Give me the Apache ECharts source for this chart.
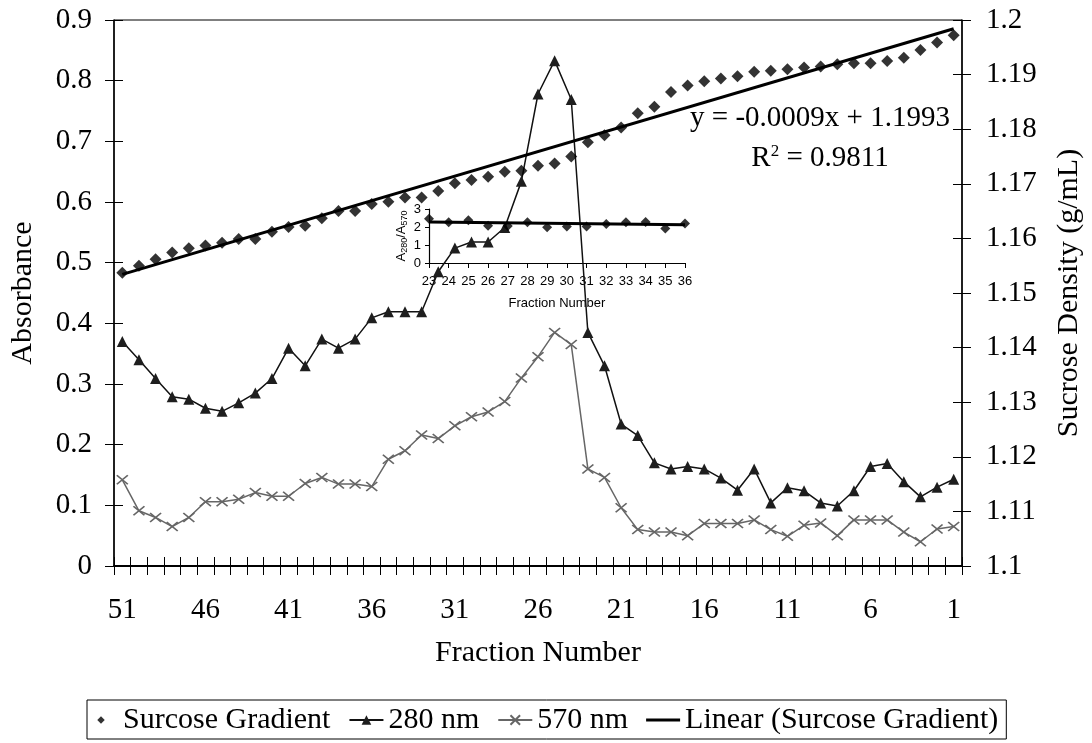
<!DOCTYPE html>
<html>
<head>
<meta charset="utf-8">
<script src="https://cdn.jsdelivr.net/npm/echarts@6/dist/echarts.min.js"></script>
<style>
  html, body { margin: 0; padding: 0; background: #fff; }
  #chart { width: 1092px; height: 743px; }
</style>
</head>
<body>
<div id="chart"></div>
<script>
// Fraction numbers, collected from the bottom of the tube (51) to the top (1)
const fractions = ['51','50','49','48','47','46','45','44','43','42',
                   '41','40','39','38','37','36','35','34','33','32',
                   '31','30','29','28','27','26','25','24','23','22',
                   '21','20','19','18','17','16','15','14','13','12',
                   '11','10','9','8','7','6','5','4','3','2','1'];

// Sucrose density of each fraction (g/mL)
const sucroseDensity = [1.1537,1.1550,1.1562,1.1574,1.1582,1.1587,1.1592,1.1599,1.1599,1.1612,
                        1.1621,1.1623,1.1637,1.1650,1.1650,1.1663,1.1667,1.1675,1.1675,1.1687,
                        1.1701,1.1707,1.1713,1.1722,1.1724,1.1733,1.1737,1.1750,1.1776,1.1789,
                        1.1803,1.1829,1.1841,1.1868,1.1880,1.1888,1.1893,1.1897,1.1905,1.1907,
                        1.1910,1.1913,1.1915,1.1919,1.1921,1.1921,1.1925,1.1931,1.1945,1.1959,
                        1.1972];

// Absorbance at 280 nm
const abs280 = [0.370,0.340,0.309,0.279,0.275,0.260,0.255,0.269,0.285,0.309,
                0.359,0.330,0.374,0.359,0.374,0.409,0.419,0.419,0.419,0.485,
                0.524,0.534,0.534,0.558,0.634,0.778,0.833,0.769,0.385,0.330,
                0.234,0.215,0.170,0.160,0.164,0.160,0.145,0.125,0.160,0.104,
                0.129,0.124,0.104,0.099,0.124,0.164,0.169,0.139,0.114,0.130,
                0.143];

// Absorbance at 570 nm
const abs570 = [0.142,0.091,0.080,0.065,0.080,0.106,0.106,0.110,0.121,0.115,
                0.115,0.136,0.146,0.135,0.135,0.131,0.176,0.190,0.216,0.210,
                0.231,0.246,0.254,0.271,0.310,0.345,0.385,0.365,0.160,0.146,
                0.096,0.060,0.056,0.056,0.050,0.070,0.070,0.070,0.076,0.060,
                0.049,0.067,0.071,0.050,0.076,0.076,0.076,0.056,0.040,0.061,
                0.065];

// Linear fit of the sucrose gradient: density = slope * fraction + intercept
const fitSlope = -0.0009;
const fitIntercept = 1.1993;
const fitRSquared = 0.9811;
const fitEnds = ['51', '1'];

// Inset: A280/A570 ratio for fractions 23-36
const insetFractions = ['23','24','25','26','27','28','29','30','31','32','33','34','35','36'];
const ratio280to570 = [2.46,2.26,2.37,2.07,2.05,2.26,1.98,2.03,2.03,2.17,2.26,2.28,1.91,2.19];
const ratioTrendEnds = [['23', 2.28], ['36', 2.12]];

const serif = '"Liberation Serif", "Times New Roman", serif';
const sans = '"Liberation Sans", Arial, sans-serif';
const black = '#000';

const chart = echarts.init(document.getElementById('chart'), null, { renderer: 'canvas' });

const fitLine = fitEnds.map(f => [f, +(fitSlope * Number(f) + fitIntercept).toFixed(4)]);

const tickStyle = { color: black, width: 1 };
const mainLabel = { color: black, fontFamily: serif, fontSize: 29 };

// Legend icons: a small diamond inside a padded box, and a thick bar for the fit line
const smallDiamond = 'path://M0,0M16,16M8,3L13,8L8,13L3,8Z';
const thickBar = 'path://M0,0H36V3H0Z';

const option = {
  animation: false,
  backgroundColor: '#fff',
  grid: [
    { left: 112, right: 124, top: 20, bottom: 177, show: true, borderColor: black, borderWidth: 1, containLabel: false },
    { left: 429, top: 209, width: 256, height: 54, containLabel: false }
  ],
  legend: {
    left: 87, top: 700,
    borderColor: black, borderWidth: 1, borderRadius: 0,
    padding: [5, 8, 4, 8],
    itemGap: 18, itemWidth: 34, itemHeight: 12,
    symbolKeepAspect: true,
    textStyle: { color: black, fontFamily: serif, fontSize: 30 },
    data: [
      { name: 'Surcose Gradient', icon: smallDiamond, itemStyle: { color: black } },
      { name: '280 nm' },
      { name: '570 nm' },
      { name: 'Linear (Surcose Gradient)', icon: thickBar, itemStyle: { color: black } }
    ]
  },
  xAxis: [
    {
      gridIndex: 0, type: 'category', data: fractions, boundaryGap: true, position: 'bottom',
      axisLine: { lineStyle: { color: black, width: 2 } },
      axisTick: { show: true, interval: 0, inside: false, length: 9, lineStyle: tickStyle },
      axisLabel: Object.assign({ interval: 4, margin: 30 }, mainLabel),
      splitLine: { show: false },
      name: 'Fraction Number', nameLocation: 'middle', nameGap: 72,
      nameTextStyle: { color: black, fontFamily: serif, fontSize: 30 }
    },
    {
      gridIndex: 0, type: 'category', data: fractions, boundaryGap: true, position: 'bottom',
      axisLine: { show: false },
      axisTick: { show: true, interval: 0, inside: true, length: 9, lineStyle: tickStyle },
      axisLabel: { show: false }, splitLine: { show: false }
    },
    {
      gridIndex: 1, type: 'category', data: insetFractions, boundaryGap: false, position: 'bottom',
      axisLine: { lineStyle: { color: black, width: 1.2 } },
      axisTick: { show: true, interval: 0, inside: false, length: 5, lineStyle: tickStyle },
      axisLabel: { interval: 0, margin: 12, color: black, fontFamily: sans, fontSize: 13 },
      splitLine: { show: false },
      name: 'Fraction Number', nameLocation: 'middle', nameGap: 34,
      nameTextStyle: { color: black, fontFamily: sans, fontSize: 13 }
    }
  ],
  yAxis: [
    {
      gridIndex: 0, type: 'value', position: 'left', min: 0, max: 0.9, interval: 0.1,
      axisLine: { show: true, lineStyle: { color: black, width: 1.5 } },
      axisTick: { show: true, inside: false, length: 9, lineStyle: tickStyle },
      axisLabel: Object.assign({ margin: 22 }, mainLabel),
      splitLine: { show: false },
      name: 'Absorbance', nameLocation: 'middle', nameRotate: 90, nameGap: 76,
      nameTextStyle: { color: black, fontFamily: serif, fontSize: 30 }
    },
    {
      gridIndex: 0, type: 'value', position: 'right', min: 1.1, max: 1.2, interval: 0.01,
      axisLine: { show: true, lineStyle: { color: black, width: 1.5 } },
      axisTick: { show: true, inside: false, length: 9, lineStyle: tickStyle },
      axisLabel: Object.assign({ margin: 24 }, mainLabel),
      splitLine: { show: false },
      name: 'Sucrose Density (g/mL)', nameLocation: 'middle', nameRotate: 90, nameGap: 92,
      nameTextStyle: { color: black, fontFamily: serif, fontSize: 30 }
    },
    {
      gridIndex: 0, type: 'value', position: 'left', min: 0, max: 0.9, interval: 0.1,
      axisLine: { show: false },
      axisTick: { show: true, inside: true, length: 9, lineStyle: tickStyle },
      axisLabel: { show: false }, splitLine: { show: false }
    },
    {
      gridIndex: 0, type: 'value', position: 'right', min: 1.1, max: 1.2, interval: 0.01,
      axisLine: { show: false },
      axisTick: { show: true, inside: true, length: 9, lineStyle: tickStyle },
      axisLabel: { show: false }, splitLine: { show: false }
    },
    {
      gridIndex: 1, type: 'value', position: 'left', min: 0, max: 3, interval: 1,
      axisLine: { show: true, lineStyle: { color: black, width: 1.2 } },
      axisTick: { show: true, inside: false, length: 4, lineStyle: tickStyle },
      axisLabel: { margin: 8, color: black, fontFamily: sans, fontSize: 13 },
      splitLine: { show: false },
      name: '{a|A}{s|280}{a|/A}{s|570}', nameLocation: 'middle', nameRotate: 90, nameGap: 20,
      nameTextStyle: {
        color: black, fontFamily: sans,
        rich: {
          a: { fontFamily: sans, fontSize: 13, color: black, lineHeight: 16 },
          s: { fontFamily: sans, fontSize: 9, color: black, lineHeight: 16, verticalAlign: 'bottom' }
        }
      }
    }
  ],
  series: [
    {
      name: 'Surcose Gradient', type: 'scatter', xAxisIndex: 0, yAxisIndex: 1,
      data: sucroseDensity, symbol: 'diamond', symbolSize: 12,
      itemStyle: { color: black }, z: 4
    },
    {
      name: '280 nm', type: 'line', xAxisIndex: 0, yAxisIndex: 0,
      data: abs280, symbol: 'triangle', symbolSize: 11, showAllSymbol: true,
      lineStyle: { color: '#111', width: 1.5 },
      itemStyle: { color: '#1e1e1e', borderWidth: 0 }, z: 3
    },
    {
      name: '570 nm', type: 'line', xAxisIndex: 0, yAxisIndex: 0,
      data: abs570, symbol: 'path://M0,0L10,10M10,0L0,10', symbolSize: [11, 9], showAllSymbol: true,
      lineStyle: { color: '#666', width: 1.5 },
      itemStyle: { color: '#666', borderColor: '#666', borderWidth: 1.6 }, z: 3
    },
    {
      name: 'Linear (Surcose Gradient)', type: 'line', xAxisIndex: 0, yAxisIndex: 1,
      data: fitLine, symbol: 'none',
      lineStyle: { color: black, width: 3 }, itemStyle: { color: black }, z: 5
    },
    {
      name: 'A280/A570', type: 'scatter', xAxisIndex: 2, yAxisIndex: 4,
      data: ratio280to570, symbol: 'diamond', symbolSize: 10,
      itemStyle: { color: black }, z: 4
    },
    {
      name: 'Linear (A280/A570)', type: 'line', xAxisIndex: 2, yAxisIndex: 4,
      data: ratioTrendEnds, symbol: 'none',
      lineStyle: { color: black, width: 3 }, itemStyle: { color: black }, z: 5
    }
  ],
  graphic: [
    {
      type: 'text', x: 820, y: 118, z: 10,
      style: {
        text: 'y = ' + fitSlope.toFixed(4) + 'x + ' + fitIntercept.toFixed(4),
        font: '29px ' + serif, fill: black, align: 'center', verticalAlign: 'middle'
      }
    },
    {
      type: 'text', x: 820, y: 158, z: 10,
      style: {
        text: '{a|R}{s|2}{a| = ' + fitRSquared.toFixed(4) + '}',
        align: 'center', verticalAlign: 'middle',
        rich: {
          a: { fontFamily: serif, fontSize: 29, fill: black, lineHeight: 30 },
          s: { fontFamily: serif, fontSize: 17, fill: black, lineHeight: 30, verticalAlign: 'top' }
        }
      }
    }
  ]
};

chart.setOption(option);
</script>
</body>
</html>
